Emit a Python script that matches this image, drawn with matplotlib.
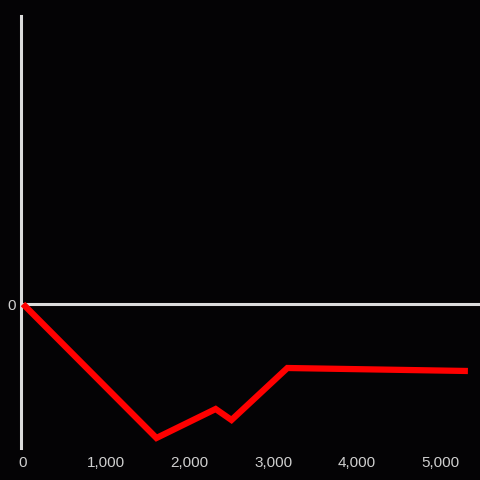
import matplotlib.pyplot as plt
from matplotlib.ticker import FuncFormatter

# datos
x_vals = [0, 1600, 2310, 2500, 3170, 5335]
y_vals = [0, -134, -105, -116, -64, -67]
x_ticks = [0, 1000, 2000, 3000, 4000, 5000]

bg = '#040305'
gris = '#dcdcdc'

fig = plt.figure(figsize=(4.8, 4.8), dpi=100, facecolor=bg)
ax = fig.add_axes([20.5 / 480, 32 / 480, 1 - 20.5 / 480, 432 / 480])
ax.set_facecolor(bg)

ax.plot(x_vals, y_vals, color='#ff0000', linewidth=4.5, solid_joinstyle='miter',
        solid_capstyle='butt', zorder=5)
ax.axhline(0, color=gris, linewidth=2.2, zorder=3)

ax.set_xlim(-30, 5480)
ax.set_ylim(-144, 288)

ax.set_xticks(x_ticks)
ax.set_yticks([0])
ax.xaxis.set_major_formatter(FuncFormatter(lambda v, p: f'{int(v):,}'))

for lado in ['top', 'right', 'bottom']:
    ax.spines[lado].set_visible(False)
ax.spines['left'].set_color(gris)
ax.spines['left'].set_linewidth(2.2)

ax.tick_params(axis='both', length=0, colors='#cfcfcf', labelsize=11)
ax.tick_params(axis='x', pad=6)
ax.tick_params(axis='y', pad=3)
for t in ax.get_xticklabels() + ax.get_yticklabels():
    t.set_fontfamily('Liberation Sans')

fig.savefig('out.png', dpi=100, facecolor=bg)
